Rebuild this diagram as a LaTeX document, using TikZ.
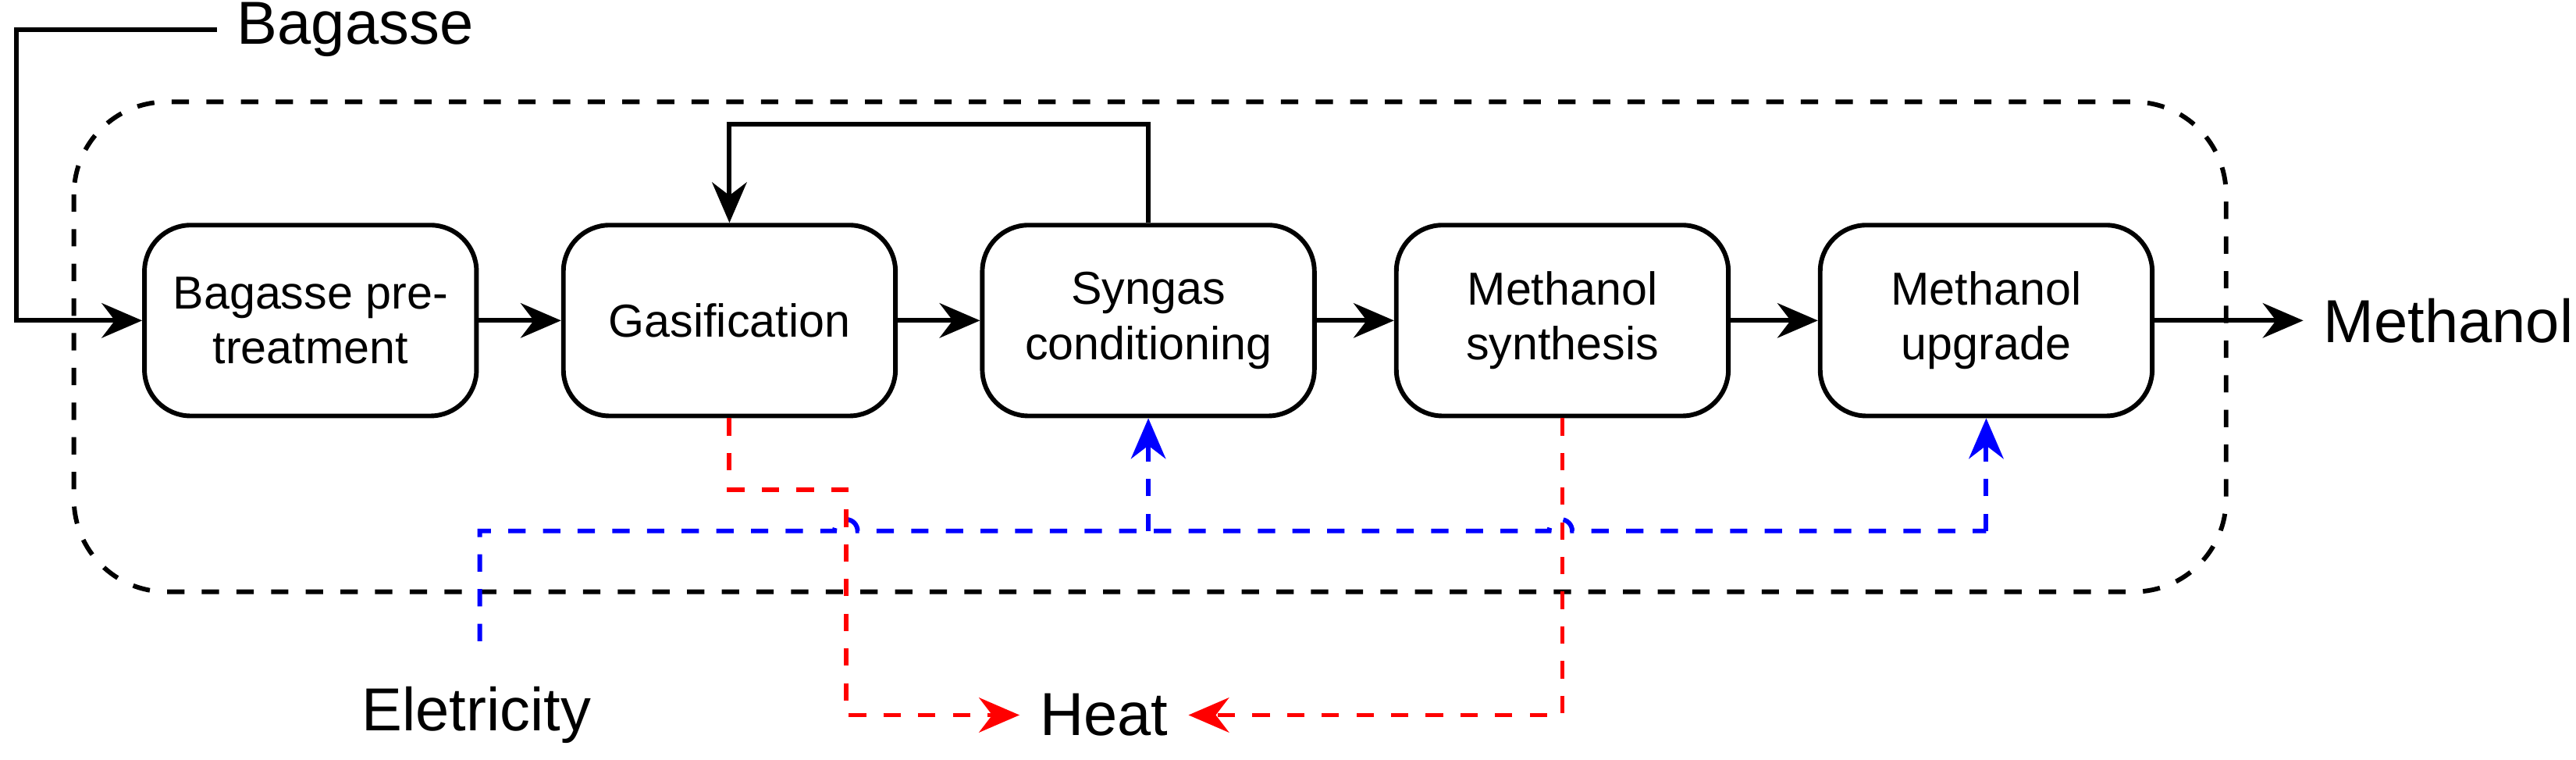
\documentclass[tikz,border=0pt]{standalone}
\usepackage{fontspec}
\setmainfont{Liberation Sans}
\usetikzlibrary{arrows.meta,positioning}
\begin{document}
\begin{tikzpicture}[x=0.01cm,y=-0.01cm,
    blk/.style={draw,thick,rounded corners=8pt,minimum width=2.02cm,minimum height=1.16cm,
                align=center,font=\fontsize{8}{9.5}\selectfont},
    lbl/.style={font=\fontsize{10.5}{12}\selectfont},
    flow/.style={thick,-{Stealth[length=7pt,width=6pt]}},
    elec/.style={thick,blue,dashed,-{Stealth[length=7pt,width=6pt]}},
    heat/.style={thick,red,dashed,-{Stealth[length=7pt,width=6pt]}}]
    \useasboundingbox (0,0) rectangle (1568,462);
    % boundary
    \draw[thick,dashed,rounded corners=16pt] (45,62) rectangle (1355,360);
    % process blocks
    \node[blk] (pre) at (189,195) {Bagasse pre-\\treatment};
    \node[blk] (gas) at (444,195) {Gasification};
    \node[blk] (syn) at (699,195) {Syngas\\conditioning};
    \node[blk] (msy) at (951,195) {Methanol\\synthesis};
    \node[blk] (mup) at (1209,195) {Methanol\\upgrade};
    % streams
    \node[lbl,anchor=west] (bag) at (132,18) {Bagasse};
    \node[lbl,anchor=west] (meoh) at (1402,195) {Methanol};
    \node[lbl] (ele) at (290,435) {Eletricity};
    \node[lbl] (hea) at (672,435) {Heat};
    \coordinate (bagc) at (10,18);
    \coordinate (eles) at (292,390);
    \draw[flow] (bag.west) -- (bagc) |- (pre.west);
    \draw[flow] (pre) -- (gas);
    \draw[flow] (gas) -- (syn);
    \draw[flow] (syn) -- (msy);
    \draw[flow] (msy) -- (mup);
    \draw[flow] (mup) -- (meoh);
    \draw[flow] (syn.north) -- ++(0,-60) -| (gas.north);
    % electricity
    \draw[thick,blue,dashed] (eles) -- (292,323) -- (508,323)
        arc[start angle=180,end angle=0,radius=0.07cm] -- (943,323)
        arc[start angle=180,end angle=0,radius=0.07cm] -- (1209,323);
    \draw[elec] (1209,323) -- (mup.south);
    \draw[elec] (699,323) -- (syn.south);
    % heat
    \draw[heat] (gas.south) -- (444,298) -| (515,435) -- (hea.west);
    \draw[heat] (msy.south) |- (hea.east);
\end{tikzpicture}
\end{document}
